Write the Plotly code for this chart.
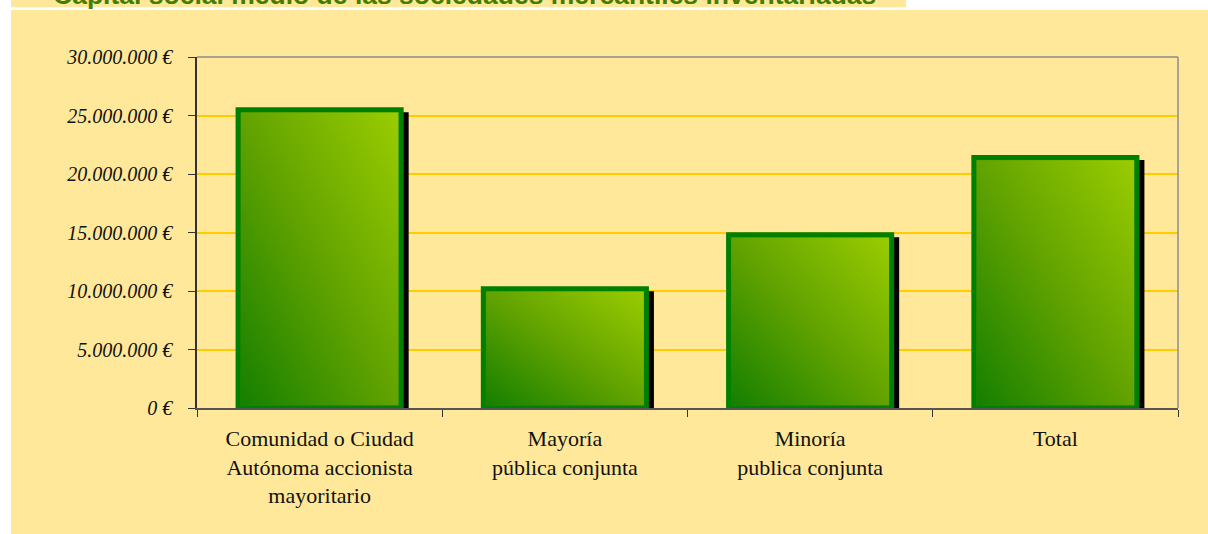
import base64
import plotly.graph_objects as go

# ---- data ----
categories = [
    "Comunidad o Ciudad<br>Autónoma accionista<br>mayoritario",
    "Mayoría<br>pública conjunta",
    "Minoría<br>publica conjunta",
    "Total",
]
capital_medio = [25500000, 10200000, 14800000, 21400000]
y_ticks = [0, 5000000, 10000000, 15000000, 20000000, 25000000, 30000000]
y_tick_labels = ["0 €", "5.000.000 €", "10.000.000 €", "15.000.000 €",
                 "20.000.000 €", "25.000.000 €", "30.000.000 €"]
title_text = "Capital social medio de las sociedades mercantiles inventariadas"

# ---- layout geometry (pixels) ----
W, H = 1208, 534
ML, MR, MT, MB = 197, 30, 57, 126
PW, PH = W - ML - MR, H - MT - MB
YMAX = 30000000
PX_X = PW / len(categories)      # px per category unit
PX_Y = PH / YMAX                  # px per euro

BAR_W = 0.665
BORDER = 5
SHADOW = 5

def px_to_paper_x(px):
    return (px - ML) / PW

def px_to_paper_y(py):
    return (H - MB - py) / PH

# gradient image for bar fill
svg = (
    "<svg xmlns='http://www.w3.org/2000/svg' width='100' height='100' viewBox='0 0 100 100' "
    "preserveAspectRatio='none'><defs><linearGradient id='g' x1='0' y1='1' x2='1' y2='0'>"
    "<stop offset='0' stop-color='#157F00'/><stop offset='0.5' stop-color='#62A300'/>"
    "<stop offset='1' stop-color='#9ACC00'/></linearGradient></defs>"
    "<rect width='100' height='100' fill='url(#g)'/></svg>"
)
grad_uri = "data:image/svg+xml;base64," + base64.b64encode(svg.encode()).decode()

fig = go.Figure()

# shadow bars
half = BORDER / 2
fig.add_trace(go.Bar(
    x=categories,
    y=[v + (half - SHADOW) / PX_Y for v in capital_medio],
    width=BAR_W + BORDER / PX_X,
    offset=-BAR_W / 2 + (SHADOW - half) / PX_X,
    marker=dict(color="#000000", line=dict(width=0)),
    hoverinfo="skip", showlegend=False,
))
# main bars
fig.add_trace(go.Bar(
    x=categories,
    y=capital_medio,
    width=BAR_W,
    marker=dict(color="#2E8A00", line=dict(color="#008000", width=BORDER)),
    showlegend=False,
))

images = []
for i, v in enumerate(capital_medio):
    dx = half / PX_X
    dy = half / PX_Y
    images.append(dict(
        source=grad_uri, xref="x", yref="y",
        x=i - BAR_W / 2 + dx, y=v - dy,
        sizex=BAR_W - 2 * dx, sizey=v - 2 * dy,
        xanchor="left", yanchor="top", sizing="stretch", layer="above",
    ))

shapes = [
    # title strip
    dict(type="rect", xref="paper", yref="paper", layer="below",
         x0=px_to_paper_x(11), x1=px_to_paper_x(906),
         y0=px_to_paper_y(7.3), y1=px_to_paper_y(-5),
         fillcolor="#FFE899", line=dict(width=0)),
    # chart box
    dict(type="rect", xref="paper", yref="paper", layer="below",
         x0=px_to_paper_x(11), x1=px_to_paper_x(W + 5),
         y0=px_to_paper_y(H + 5), y1=px_to_paper_y(10),
         fillcolor="#FFE899", line=dict(width=0)),
    # plot frame top & right
    dict(type="line", xref="paper", yref="paper", x0=0, x1=1, y0=1, y1=1,
         line=dict(color="#8C8C8C", width=1.5), layer="above"),
    dict(type="line", xref="paper", yref="paper", x0=1, x1=1, y0=0, y1=1,
         line=dict(color="#8C8C8C", width=1.5), layer="above"),
]

fig.update_layout(
    width=W, height=H,
    margin=dict(l=ML, r=MR, t=MT, b=MB),
    paper_bgcolor="#FFFFFF",
    plot_bgcolor="#FFFFCC",
    barmode="overlay",
    shapes=shapes,
    images=images,
    annotations=[dict(
        text="<b>" + title_text + "</b>", xref="paper", yref="paper",
        x=px_to_paper_x(51), y=px_to_paper_y(-4.5), xanchor="left", yanchor="middle",
        showarrow=False, font=dict(family="Liberation Sans, Arial", size=26.5, color="#447D00"),
    )],
    xaxis=dict(
        type="category", categoryorder="array", categoryarray=categories,
        range=[-0.5, len(categories) - 0.5],
        showgrid=False, zeroline=False,
        showline=True, linecolor="#555555", linewidth=1.5,
        ticks="outside", tickson="boundaries", ticklen=7, tickcolor="#333333",
        ticklabelstandoff=10,
        tickfont=dict(family="Liberation Serif", size=22, color="#111111"),
    ),
    yaxis=dict(
        range=[0, YMAX], tickmode="array", tickvals=y_ticks, ticktext=y_tick_labels,
        showgrid=True, gridcolor="#FFCC00", gridwidth=2,
        zeroline=False,
        showline=True, linecolor="#333333", linewidth=1.5,
        ticks="outside", ticklen=7, tickcolor="#333333",
        ticklabelstandoff=12,
        tickfont=dict(family="Liberation Serif", size=20, color="#111111", style="italic"),
    ),
)

fig.write_html("out.html", config={"displayModeBar": False},
               post_script="document.body.style.margin='0';")
